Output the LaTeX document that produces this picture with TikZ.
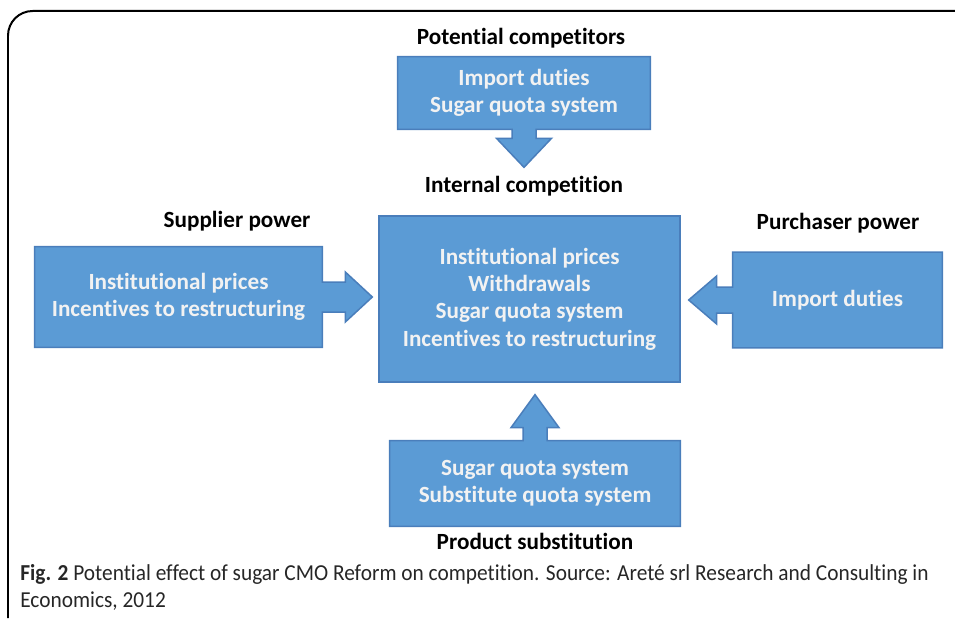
\documentclass[tikz,border=0pt]{standalone}
\usepackage{fontspec}
\setmainfont[Ligatures=NoCommon]{Carlito}
\usepackage{tikz}
\usetikzlibrary{positioning,calc,backgrounds}
\definecolor{boxblue}{HTML}{5B9BD5}
\definecolor{boxline}{HTML}{4A7EBB}

\begin{document}
\begin{tikzpicture}[x=0.02cm,y=-0.02cm]
\tikzstyle{box}=[text=white!95!black,align=center,inner sep=0pt,font=\bfseries\fontsize{13.2}{15.5}\selectfont]
\tikzstyle{head}=[text=black,font=\bfseries\fontsize{13.2}{15}\selectfont]
\tikzstyle{callout}=[fill=boxblue,draw=boxline,line width=.3mm]
\useasboundingbox (0,0) rectangle (955,618);
% frame
\draw[line width=.4mm,rounded corners=14] (8,618) -- (8,11) -- (955,11);
% boxes and titles
    \node[head] (pcl) at (521,38) {Potential competitors};
    \node[box,minimum width=5.04cm,minimum height=1.44cm] (pc) at (524,93) {Import duties\\Sugar quota system};
    \node[head] (icl) at (524,186) {Internal competition};
    \node[box,callout,minimum width=6.02cm,minimum height=3.32cm] (ic) at (529.5,299) {Institutional prices\\Withdrawals\\Sugar quota system\\Incentives to restructuring};
    \node[head] (spl) at (237,221) {Supplier power};
    \node[box,minimum width=5.74cm,minimum height=2cm] (sp) at (178.5,297) {Institutional prices\\Incentives to restructuring};
    \node[head] (ppl) at (838,223) {Purchaser power};
    \node[box,minimum width=4.18cm,minimum height=1.9cm] (pp) at (837.5,300) {Import duties};
    \node[box,minimum width=5.8cm,minimum height=1.7cm] (ps) at (535,483.5) {Sugar quota system\\Substitute quota system};
    \node[head] (psl) at (535,541) {Product substitution};
% arrow tips
    \coordinate (t1) at ($(pc.south)+(0,38)$);
    \coordinate (t2) at ($(sp.east)+(50,0)$);
    \coordinate (t3) at ($(pp.west)+(-44,0)$);
    \coordinate (t4) at ($(ps.north)+(0,-46)$);
\begin{scope}[on background layer]
    \draw[callout] (pc.south west) -- (pc.north west) -- (pc.north east) -- (pc.south east) -- ($(pc.south)+(12,0)$) -- ++(0,9) -- ++(15.5,0) -- (t1) -- ($(pc.south)+(-27.5,9)$) -- ++(15.5,0) -- ($(pc.south)+(-12,0)$) -- cycle;
    \draw[callout] (sp.north east) -- ($(sp.east)+(0,-15)$) -- ++(23,0) -- ++(0,-10) -- (t2) -- ($(sp.east)+(23,25)$) -- ++(0,-10) -- ++(-23,0) -- (sp.south east) -- (sp.south west) -- (sp.north west) -- cycle;
    \draw[callout] (pp.north west) -- ($(pp.west)+(0,-13)$) -- ++(-16,0) -- ++(0,-11) -- (t3) -- ($(pp.west)+(-16,24)$) -- ++(0,-11) -- ++(16,0) -- (pp.south west) -- (pp.south east) -- (pp.north east) -- cycle;
    \draw[callout] (ps.north west) -- ($(ps.north)+(-12,0)$) -- ++(0,-13) -- ++(-12,0) -- (t4) -- ($(ps.north)+(24,-13)$) -- ++(-12,0) -- ++(0,13) -- (ps.north east) -- (ps.south east) -- (ps.south west) -- cycle;
\end{scope}
% caption
    \node[anchor=west,align=left,inner sep=0pt,text=black!85,font=\fontsize{13}{15.3}\selectfont] (cap) at (20,587) {\scalebox{.935}[1]{\textbf{Fig. 2} Potential effect of sugar CMO Reform on competition. Source: Areté srl Research and Consulting in}\\\scalebox{.935}[1]{Economics, 2012}};
\end{tikzpicture}
\end{document}
